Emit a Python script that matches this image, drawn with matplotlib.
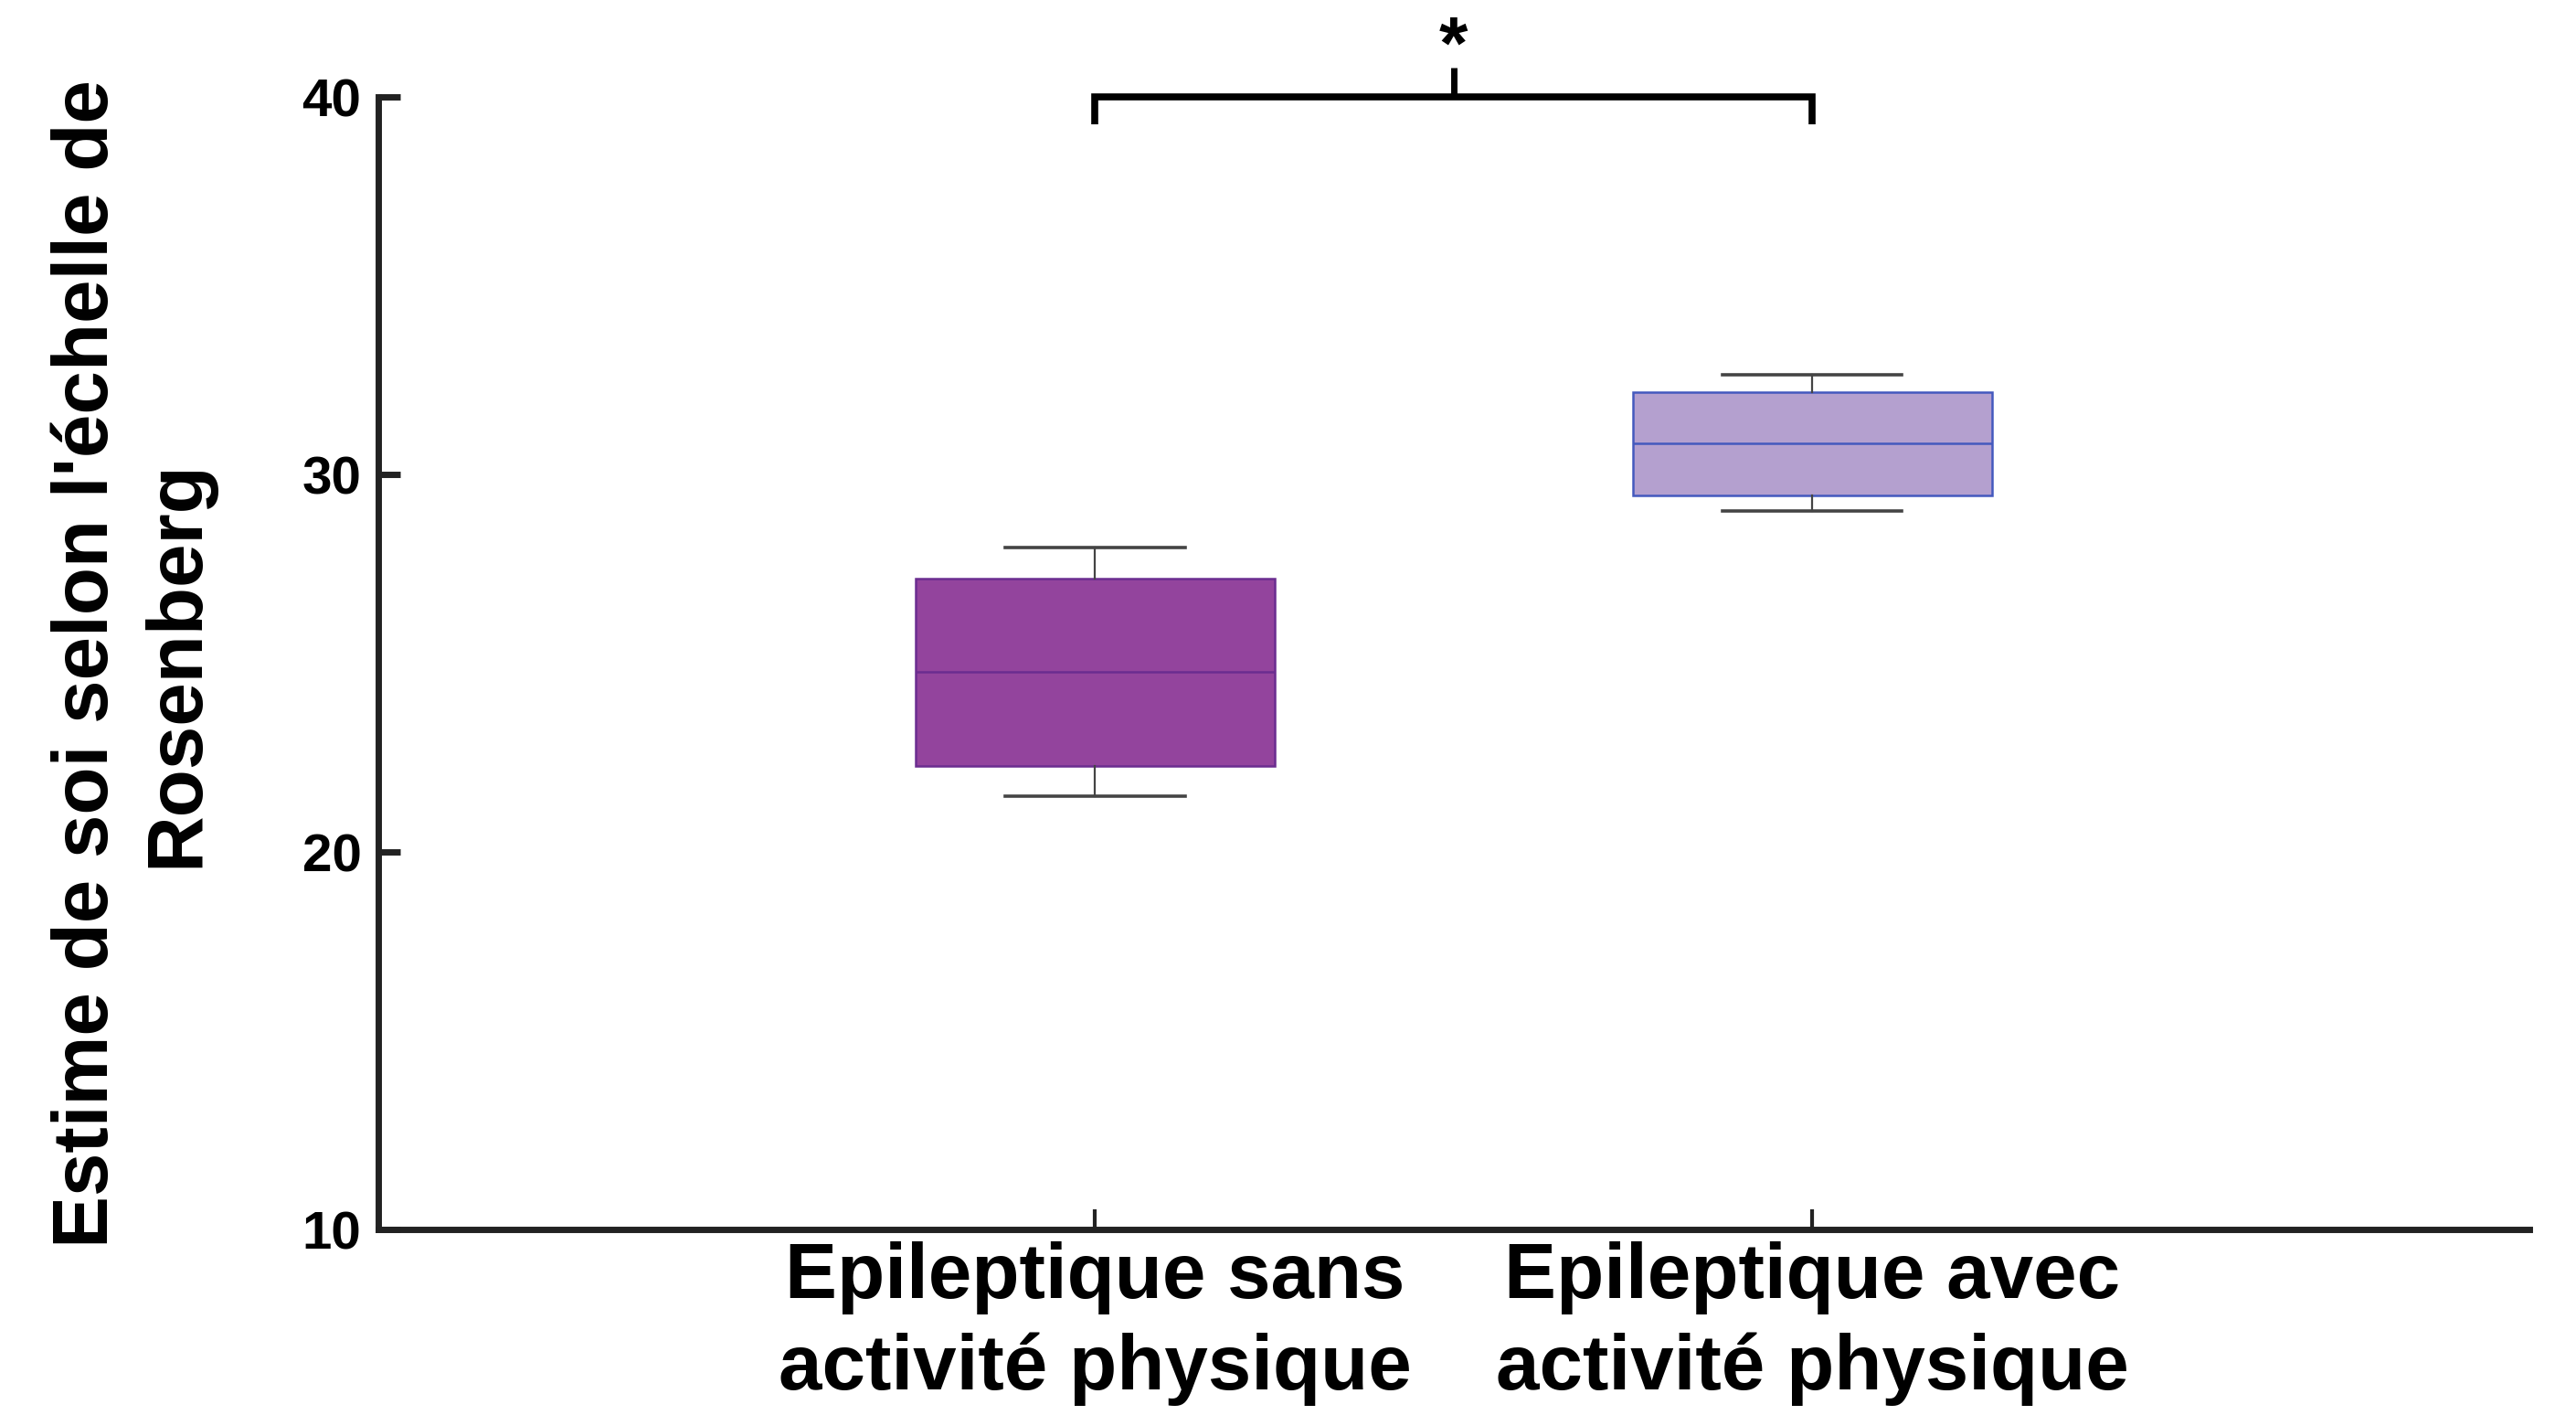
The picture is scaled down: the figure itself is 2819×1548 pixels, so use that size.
import matplotlib
matplotlib.use("Agg")
import matplotlib.pyplot as plt
from matplotlib.transforms import ScaledTranslation

# ---- data ----
categories = ["Epileptique sans\nactivité physique", "Epileptique avec\nactivité physique"]
whislo = [21.48, 29.03]
q1 = [22.27, 29.44]
med = [24.78, 30.83]
q3 = [27.23, 32.19]
whishi = [28.07, 32.64]
fill_colors = ["#93449d", "#b4a0cf"]
edge_colors = ["#6b2d90", "#4459be"]
yticks = [10, 20, 30, 40]
ylabel = "Estime de soi selon l'échelle de\nRosenberg"
signif = "*"

FONT = "Liberation Sans"
plt.rcParams["font.family"] = [FONT, "DejaVu Sans"]

fig = plt.figure(figsize=(28.19, 15.48), dpi=100)
ax = fig.add_axes([0.1467, 0.1311, 0.982 - 0.1467, 0.9315 - 0.1311])

stats = []
for i in range(len(categories)):
    stats.append(dict(whislo=whislo[i], q1=q1[i], med=med[i], q3=q3[i], whishi=whishi[i], fliers=[]))

positions = list(range(len(categories)))
for i, s in enumerate(stats):
    ax.bxp([s], positions=[positions[i]], widths=0.5, patch_artist=True, showfliers=False,
           boxprops=dict(facecolor=fill_colors[i], edgecolor=edge_colors[i], linewidth=1.8),
           medianprops=dict(color=edge_colors[i], linewidth=1.8),
           whiskerprops=dict(color="#444444", linewidth=1.6),
           capprops=dict(color="#444444", linewidth=2.6),
           capwidths=0.25, zorder=3)

ax.set_xlim(-1, 2)
ax.set_ylim(10, 40)
ax.set_yticks(yticks)
ax.set_yticklabels([str(t) for t in yticks])
ax.set_xticks(positions)
ax.set_xticklabels(categories, fontsize=61.5, fontweight="bold", linespacing=1.32)

# slight horizontal spread of the two category labels, as in the reference
shifts = [-0.11, 0.12]
for lab, dx in zip(ax.get_xticklabels(), shifts):
    lab.set_transform(lab.get_transform() + ScaledTranslation(dx, 0, fig.dpi_scale_trans))

for sp in ["top", "right"]:
    ax.spines[sp].set_visible(False)
for sp in ["left", "bottom"]:
    ax.spines[sp].set_color("#222222")
    ax.spines[sp].set_linewidth(5)

ax.tick_params(axis="y", direction="in", length=17, width=5, color="#222222",
               labelsize=42, pad=13)
ax.tick_params(axis="x", direction="in", length=16, width=3, color="#222222",
               labelsize=61.5, pad=9)
for lab in ax.get_yticklabels():
    lab.set_fontweight("bold")

fig.text(0.0515, 0.531, ylabel, rotation=90, ha="center", va="center",
         fontsize=61.5, fontweight="bold", multialignment="center", linespacing=1.3)

# significance bracket
yb = 40.0
ax.plot([positions[0], positions[0], positions[1], positions[1]],
        [yb - 0.72, yb, yb, yb - 0.72], color="black", lw=5.5, clip_on=False,
        solid_joinstyle="miter", solid_capstyle="butt")
xm = (positions[0] + positions[1]) / 2
ax.plot([xm, xm], [yb, yb + 0.78], color="black", lw=5, clip_on=False, solid_capstyle="butt")
ax.text(xm, yb + 1.28, signif, ha="center", va="center", fontsize=58, fontweight="bold",
        clip_on=False)

fig.savefig("out.png", dpi=100)
